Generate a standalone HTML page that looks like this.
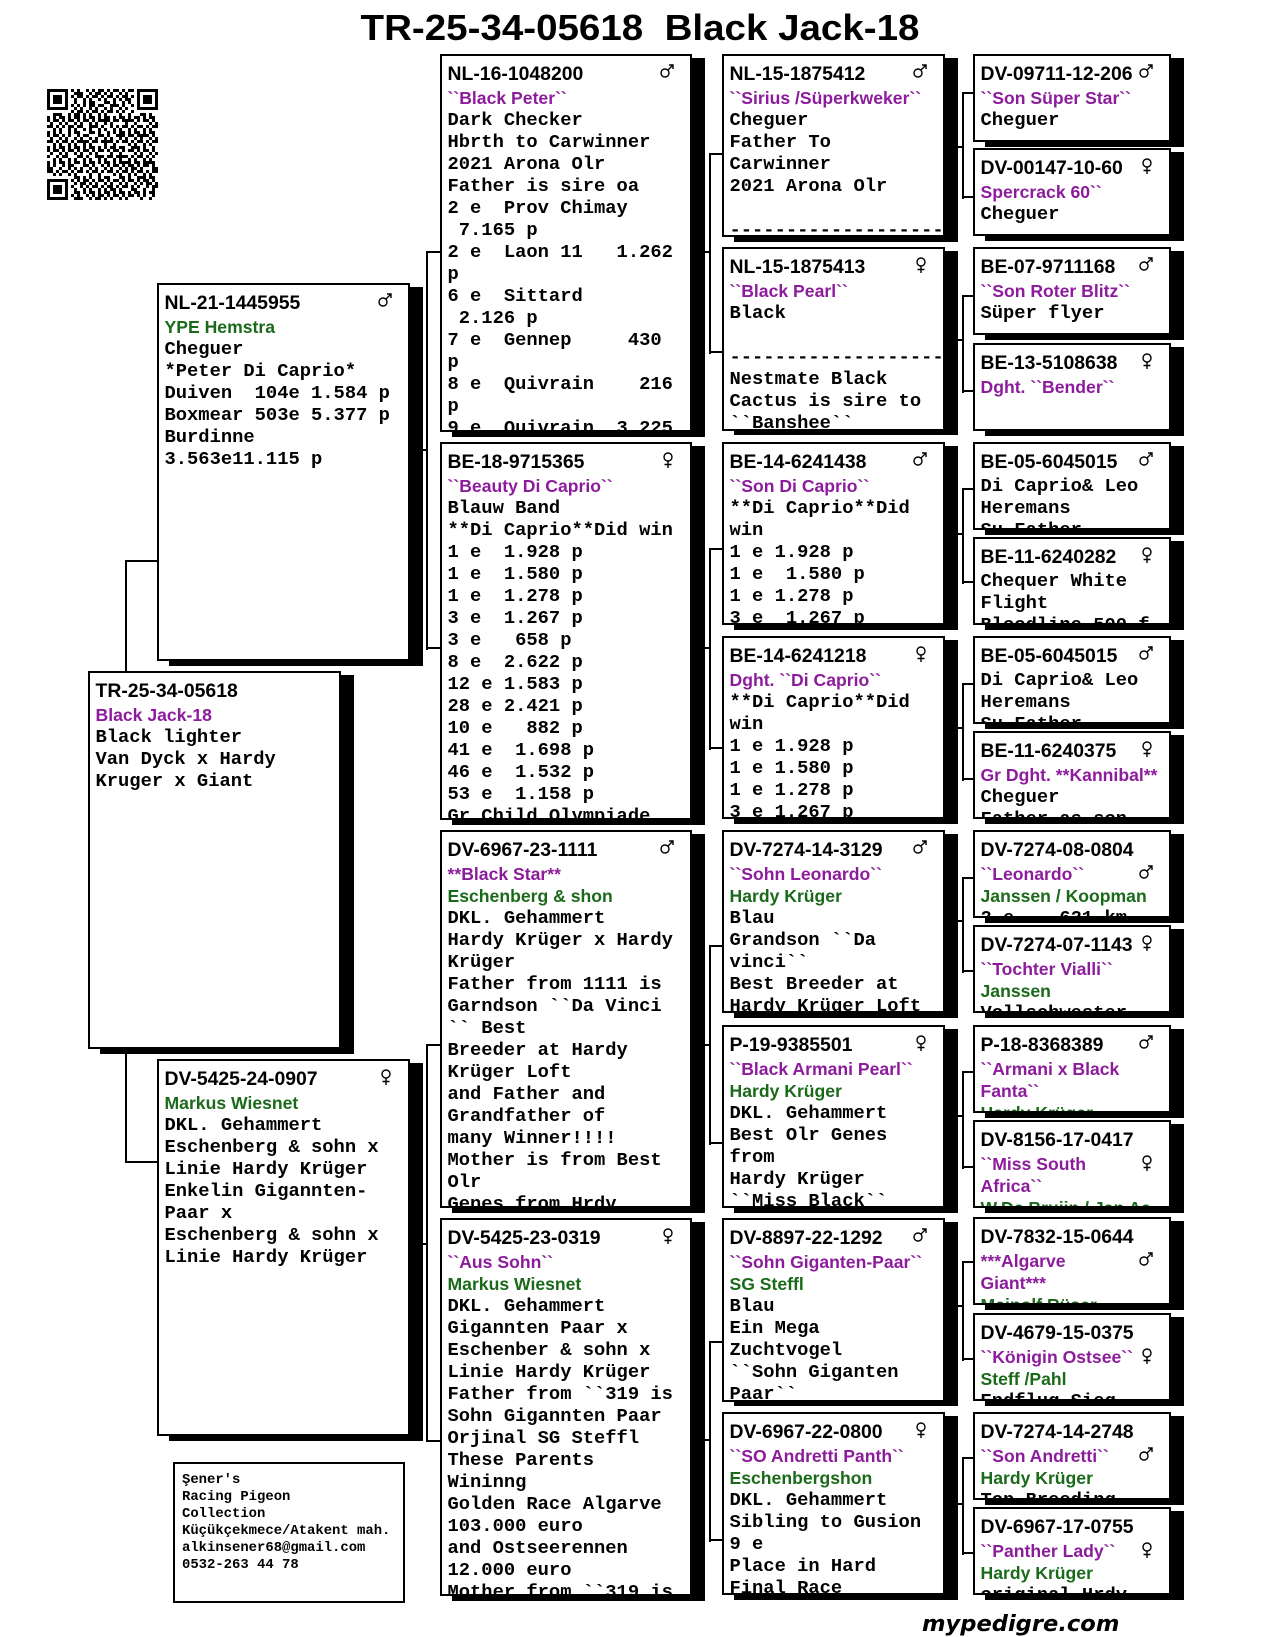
<!DOCTYPE html>
<html><head><meta charset="utf-8">
<style>
html,body{margin:0;padding:0;background:#fff}
#pg{position:relative;width:1280px;height:1637px;overflow:hidden;background:#fff}
.s{position:absolute;background:#000}
.l{position:absolute;background:#000}
.b{position:absolute;box-sizing:border-box;border:2px solid #000;background:#fff;overflow:hidden;padding:6px 0 0 5.5px}
.b div{white-space:pre;height:22px;line-height:22px}
.b .h{font:bold 19.4px/25px "Liberation Sans",Arial,sans-serif;height:25px;line-height:25px;color:#000}
.b .p{font:bold 17.6px/22px "Liberation Sans",Arial,sans-serif;color:#8c1c9c}
.b .g{font:bold 17.6px/22px "Liberation Sans",Arial,sans-serif;color:#1a6a1a}
.b .m{font:bold 18.8px/22px "Liberation Mono","Courier New",monospace;color:#000}
.sym{position:absolute;right:16px;top:8px}
.sym.l2{top:33px}
#title{position:absolute;left:0;top:8px;width:1280px;text-align:center;font:bold 36px/40px "Liberation Sans",Arial,sans-serif;color:#000;white-space:pre;transform:scaleX(1.07)}
#info{position:absolute;left:173px;top:1462px;width:232px;height:141px;box-sizing:border-box;border:2px solid #000;padding:8px 0 0 7px;font:bold 13.9px/17px "Liberation Mono","Courier New",monospace;white-space:pre;color:#000}
#site{position:absolute;left:922px;top:1611px;font:italic bold 22.6px/26px "DejaVu Sans",sans-serif;color:#000;white-space:pre}
</style></head>
<body><div id="pg">

<div id="title">TR-25-34-05618  Black Jack-18</div>

<!-- QR -->
<svg style="position:absolute;left:47px;top:89px" width="111" height="111" viewBox="0 0 111 111">
<defs><pattern id="q" width="15" height="15" patternUnits="userSpaceOnUse"><path d="M0 0h3v3h-3z M6 0h6v3h-6z M3 3h3v3h-3z M12 3h3v3h-3z M0 6h6v3h-6z M9 6h3v3h-3z M6 9h3v3h-3z M12 9h3v6h-3z M0 12h3v3h-3z M6 12h3v3h-3z"/></pattern>
<pattern id="q2" width="21" height="21" patternUnits="userSpaceOnUse"><path fill="#fff" d="M3 3h3v3h-3z M15 0h3v3h-3z M9 12h3v3h-3z M18 15h3v3h-3z"/><path d="M9 3h3v3h-3z M0 15h3v3h-3z M15 9h3v3h-3z"/></pattern></defs>
<rect width="111" height="111" fill="url(#q)"/>
<rect width="111" height="111" fill="url(#q2)"/>
<rect x="0" y="0" width="24" height="24" fill="#fff"/><rect x="87" y="0" width="24" height="24" fill="#fff"/><rect x="0" y="87" width="24" height="24" fill="#fff"/>
<rect x="0" y="0" width="21" height="21"/><rect x="3" y="3" width="15" height="15" fill="#fff"/><rect x="6" y="6" width="9" height="9"/>
<rect x="90" y="0" width="21" height="21"/><rect x="93" y="3" width="15" height="15" fill="#fff"/><rect x="96" y="6" width="9" height="9"/>
<rect x="0" y="90" width="21" height="21"/><rect x="3" y="93" width="15" height="15" fill="#fff"/><rect x="6" y="96" width="9" height="9"/>
</svg>

<!-- connectors -->
<div class="l" style="left:125px;top:560px;width:2px;height:111px"></div>
<div class="l" style="left:125px;top:560px;width:32px;height:2px"></div>
<div class="l" style="left:125px;top:1049px;width:2px;height:114px"></div>
<div class="l" style="left:125px;top:1161px;width:32px;height:2px"></div>

<div class="l" style="left:423px;top:449px;width:4px;height:2px"></div>
<div class="l" style="left:426px;top:251px;width:2px;height:399px"></div>
<div class="l" style="left:426px;top:251px;width:14px;height:2px"></div>
<div class="l" style="left:426px;top:647px;width:14px;height:2px"></div>
<div class="l" style="left:423px;top:1243px;width:4px;height:2px"></div>
<div class="l" style="left:426px;top:1044px;width:2px;height:398px"></div>
<div class="l" style="left:426px;top:1044px;width:14px;height:2px"></div>
<div class="l" style="left:426px;top:1440px;width:14px;height:2px"></div>

<div class="l" style="left:705px;top:251px;width:5px;height:2px"></div>
<div class="l" style="left:709px;top:153px;width:2px;height:201px"></div>
<div class="l" style="left:709px;top:153px;width:13px;height:2px"></div>
<div class="l" style="left:709px;top:351px;width:13px;height:2px"></div>
<div class="l" style="left:705px;top:647px;width:5px;height:2px"></div>
<div class="l" style="left:709px;top:548px;width:2px;height:202px"></div>
<div class="l" style="left:709px;top:548px;width:13px;height:2px"></div>
<div class="l" style="left:709px;top:747px;width:13px;height:2px"></div>
<div class="l" style="left:705px;top:1044px;width:5px;height:2px"></div>
<div class="l" style="left:709px;top:945px;width:2px;height:200px"></div>
<div class="l" style="left:709px;top:945px;width:13px;height:2px"></div>
<div class="l" style="left:709px;top:1142px;width:13px;height:2px"></div>
<div class="l" style="left:705px;top:1439px;width:5px;height:2px"></div>
<div class="l" style="left:709px;top:1341px;width:2px;height:201px"></div>
<div class="l" style="left:709px;top:1341px;width:13px;height:2px"></div>
<div class="l" style="left:709px;top:1539px;width:13px;height:2px"></div>

<div class="l" style="left:958px;top:146px;width:5px;height:2px"></div>
<div class="l" style="left:962px;top:92px;width:2px;height:107px"></div>
<div class="l" style="left:962px;top:92px;width:11px;height:2px"></div>
<div class="l" style="left:962px;top:196px;width:11px;height:2px"></div>
<div class="l" style="left:958px;top:339px;width:5px;height:2px"></div>
<div class="l" style="left:962px;top:295px;width:2px;height:98px"></div>
<div class="l" style="left:962px;top:295px;width:11px;height:2px"></div>
<div class="l" style="left:962px;top:390px;width:11px;height:2px"></div>
<div class="l" style="left:958px;top:533px;width:5px;height:2px"></div>
<div class="l" style="left:962px;top:488px;width:2px;height:96px"></div>
<div class="l" style="left:962px;top:488px;width:11px;height:2px"></div>
<div class="l" style="left:962px;top:581px;width:11px;height:2px"></div>
<div class="l" style="left:958px;top:727px;width:5px;height:2px"></div>
<div class="l" style="left:962px;top:683px;width:2px;height:98px"></div>
<div class="l" style="left:962px;top:683px;width:11px;height:2px"></div>
<div class="l" style="left:962px;top:778px;width:11px;height:2px"></div>
<div class="l" style="left:958px;top:920px;width:5px;height:2px"></div>
<div class="l" style="left:962px;top:877px;width:2px;height:96px"></div>
<div class="l" style="left:962px;top:877px;width:11px;height:2px"></div>
<div class="l" style="left:962px;top:970px;width:11px;height:2px"></div>
<div class="l" style="left:958px;top:1115px;width:5px;height:2px"></div>
<div class="l" style="left:962px;top:1071px;width:2px;height:98px"></div>
<div class="l" style="left:962px;top:1071px;width:11px;height:2px"></div>
<div class="l" style="left:962px;top:1166px;width:11px;height:2px"></div>
<div class="l" style="left:958px;top:1305px;width:5px;height:2px"></div>
<div class="l" style="left:962px;top:1261px;width:2px;height:100px"></div>
<div class="l" style="left:962px;top:1261px;width:11px;height:2px"></div>
<div class="l" style="left:962px;top:1358px;width:11px;height:2px"></div>
<div class="l" style="left:958px;top:1503px;width:5px;height:2px"></div>
<div class="l" style="left:962px;top:1457px;width:2px;height:98px"></div>
<div class="l" style="left:962px;top:1457px;width:11px;height:2px"></div>
<div class="l" style="left:962px;top:1552px;width:11px;height:2px"></div>

<!-- shadows -->
<div class="s" style="left:169px;top:287px;width:254px;height:379px"></div>
<div class="s" style="left:100px;top:675px;width:254px;height:379px"></div>
<div class="s" style="left:169px;top:1063px;width:254px;height:378px"></div>

<div class="s" style="left:452px;top:58px;width:253px;height:379px"></div>
<div class="s" style="left:452px;top:446px;width:253px;height:379px"></div>
<div class="s" style="left:452px;top:834px;width:253px;height:379px"></div>
<div class="s" style="left:452px;top:1222px;width:253px;height:379px"></div>

<div class="s" style="left:734px;top:58px;width:224px;height:184px"></div>
<div class="s" style="left:734px;top:251px;width:224px;height:184px"></div>
<div class="s" style="left:734px;top:446px;width:224px;height:184px"></div>
<div class="s" style="left:734px;top:640px;width:224px;height:184px"></div>
<div class="s" style="left:734px;top:834px;width:224px;height:184px"></div>
<div class="s" style="left:734px;top:1029px;width:224px;height:184px"></div>
<div class="s" style="left:734px;top:1222px;width:224px;height:184px"></div>
<div class="s" style="left:734px;top:1416px;width:224px;height:184px"></div>

<div class="s" style="left:985px;top:58px;width:199px;height:89px"></div>
<div class="s" style="left:985px;top:152px;width:199px;height:89px"></div>
<div class="s" style="left:985px;top:251px;width:199px;height:89px"></div>
<div class="s" style="left:985px;top:347px;width:199px;height:89px"></div>
<div class="s" style="left:985px;top:446px;width:199px;height:89px"></div>
<div class="s" style="left:985px;top:541px;width:199px;height:89px"></div>
<div class="s" style="left:985px;top:640px;width:199px;height:89px"></div>
<div class="s" style="left:985px;top:735px;width:199px;height:89px"></div>
<div class="s" style="left:985px;top:834px;width:199px;height:89px"></div>
<div class="s" style="left:985px;top:929px;width:199px;height:89px"></div>
<div class="s" style="left:985px;top:1029px;width:199px;height:89px"></div>
<div class="s" style="left:985px;top:1124px;width:199px;height:89px"></div>
<div class="s" style="left:985px;top:1221px;width:199px;height:89px"></div>
<div class="s" style="left:985px;top:1317px;width:199px;height:89px"></div>
<div class="s" style="left:985px;top:1416px;width:199px;height:89px"></div>
<div class="s" style="left:985px;top:1511px;width:199px;height:89px"></div>

<!-- column 1 -->
<div class="b" style="left:157px;top:283px;width:253px;height:378px">
<svg class="sym" width="14" height="14" viewBox="0 0 14 14"><g fill="none" stroke="#000" stroke-width="1.4"><circle cx="5" cy="9" r="4"/><path d="M8 6L13 1M9 1h4v4"/></g></svg>
<div class="h">NL-21-1445955</div>
<div class="g">YPE Hemstra</div>
<div class="m">Cheguer</div>
<div class="m">*Peter Di Caprio*</div>
<div class="m">Duiven  104e 1.584 p</div>
<div class="m">Boxmear 503e 5.377 p</div>
<div class="m">Burdinne</div>
<div class="m">3.563e11.115 p</div>
</div>

<div class="b" style="left:88px;top:671px;width:253px;height:378px">
<div class="h">TR-25-34-05618</div>
<div class="p">Black Jack-18</div>
<div class="m">Black lighter</div>
<div class="m">Van Dyck x Hardy</div>
<div class="m">Kruger x Giant</div>
</div>

<div class="b" style="left:157px;top:1059px;width:253px;height:377px">
<svg class="sym" width="12" height="16" viewBox="0 0 12 16"><g fill="none" stroke="#000" stroke-width="1.4"><circle cx="6" cy="5" r="4"/><path d="M6 9v7M2.5 12.5h7"/></g></svg>
<div class="h">DV-5425-24-0907</div>
<div class="g">Markus Wiesnet</div>
<div class="m">DKL. Gehammert</div>
<div class="m">Eschenberg &amp; sohn x</div>
<div class="m">Linie Hardy Krüger</div>
<div class="m">Enkelin Gigannten-</div>
<div class="m">Paar x</div>
<div class="m">Eschenberg &amp; sohn x</div>
<div class="m">Linie Hardy Krüger</div>
</div>

<!-- column 2 -->
<div class="b" style="left:440px;top:54px;width:252px;height:378px">
<svg class="sym" width="14" height="14" viewBox="0 0 14 14"><g fill="none" stroke="#000" stroke-width="1.4"><circle cx="5" cy="9" r="4"/><path d="M8 6L13 1M9 1h4v4"/></g></svg>
<div class="h">NL-16-1048200</div>
<div class="p">``Black Peter``</div>
<div class="m">Dark Checker</div>
<div class="m">Hbrth to Carwinner</div>
<div class="m">2021 Arona Olr</div>
<div class="m">Father is sire oa</div>
<div class="m">2 e  Prov Chimay</div>
<div class="m"> 7.165 p</div>
<div class="m">2 e  Laon 11   1.262</div>
<div class="m">p</div>
<div class="m">6 e  Sittard</div>
<div class="m"> 2.126 p</div>
<div class="m">7 e  Gennep     430</div>
<div class="m">p</div>
<div class="m">8 e  Quivrain    216</div>
<div class="m">p</div>
<div class="m">9 e  Quivrain  3.225</div>
</div>

<div class="b" style="left:440px;top:442px;width:252px;height:378px">
<svg class="sym" width="12" height="16" viewBox="0 0 12 16"><g fill="none" stroke="#000" stroke-width="1.4"><circle cx="6" cy="5" r="4"/><path d="M6 9v7M2.5 12.5h7"/></g></svg>
<div class="h">BE-18-9715365</div>
<div class="p">``Beauty Di Caprio``</div>
<div class="m">Blauw Band</div>
<div class="m">**Di Caprio**Did win</div>
<div class="m">1 e  1.928 p</div>
<div class="m">1 e  1.580 p</div>
<div class="m">1 e  1.278 p</div>
<div class="m">3 e  1.267 p</div>
<div class="m">3 e   658 p</div>
<div class="m">8 e  2.622 p</div>
<div class="m">12 e 1.583 p</div>
<div class="m">28 e 2.421 p</div>
<div class="m">10 e   882 p</div>
<div class="m">41 e  1.698 p</div>
<div class="m">46 e  1.532 p</div>
<div class="m">53 e  1.158 p</div>
<div class="m">Gr Child Olympiade</div>
</div>

<div class="b" style="left:440px;top:830px;width:252px;height:378px">
<svg class="sym" width="14" height="14" viewBox="0 0 14 14"><g fill="none" stroke="#000" stroke-width="1.4"><circle cx="5" cy="9" r="4"/><path d="M8 6L13 1M9 1h4v4"/></g></svg>
<div class="h">DV-6967-23-1111</div>
<div class="p">**Black Star**</div>
<div class="g">Eschenberg &amp; shon</div>
<div class="m">DKL. Gehammert</div>
<div class="m">Hardy Krüger x Hardy</div>
<div class="m">Krüger</div>
<div class="m">Father from 1111 is</div>
<div class="m">Garndson ``Da Vinci</div>
<div class="m">`` Best</div>
<div class="m">Breeder at Hardy</div>
<div class="m">Krüger Loft</div>
<div class="m">and Father and</div>
<div class="m">Grandfather of</div>
<div class="m">many Winner!!!!</div>
<div class="m">Mother is from Best</div>
<div class="m">Olr</div>
<div class="m">Genes from Hrdy</div>
</div>

<div class="b" style="left:440px;top:1218px;width:252px;height:378px">
<svg class="sym" width="12" height="16" viewBox="0 0 12 16"><g fill="none" stroke="#000" stroke-width="1.4"><circle cx="6" cy="5" r="4"/><path d="M6 9v7M2.5 12.5h7"/></g></svg>
<div class="h">DV-5425-23-0319</div>
<div class="p">``Aus Sohn``</div>
<div class="g">Markus Wiesnet</div>
<div class="m">DKL. Gehammert</div>
<div class="m">Gigannten Paar x</div>
<div class="m">Eschenber &amp; sohn x</div>
<div class="m">Linie Hardy Krüger</div>
<div class="m">Father from ``319 is</div>
<div class="m">Sohn Gigannten Paar</div>
<div class="m">Orjinal SG Steffl</div>
<div class="m">These Parents</div>
<div class="m">Wininng</div>
<div class="m">Golden Race Algarve</div>
<div class="m">103.000 euro</div>
<div class="m">and Ostseerennen</div>
<div class="m">12.000 euro</div>
<div class="m">Mother from ``319 is</div>
</div>

<!-- column 3 -->
<div class="b" style="left:722px;top:54px;width:223px;height:183px">
<svg class="sym" width="14" height="14" viewBox="0 0 14 14"><g fill="none" stroke="#000" stroke-width="1.4"><circle cx="5" cy="9" r="4"/><path d="M8 6L13 1M9 1h4v4"/></g></svg>
<div class="h">NL-15-1875412</div>
<div class="p">``Sirius /Süperkweker``</div>
<div class="m">Cheguer</div>
<div class="m">Father To</div>
<div class="m">Carwinner</div>
<div class="m">2021 Arona Olr</div>
<div class="m"> </div>
<div class="m">--------------------</div>
</div>

<div class="b" style="left:722px;top:247px;width:223px;height:184px">
<svg class="sym" width="12" height="16" viewBox="0 0 12 16"><g fill="none" stroke="#000" stroke-width="1.4"><circle cx="6" cy="5" r="4"/><path d="M6 9v7M2.5 12.5h7"/></g></svg>
<div class="h">NL-15-1875413</div>
<div class="p">``Black Pearl``</div>
<div class="m">Black</div>
<div class="m"> </div>
<div class="m">--------------------</div>
<div class="m">Nestmate Black</div>
<div class="m">Cactus is sire to</div>
<div class="m">``Banshee``</div>
</div>

<div class="b" style="left:722px;top:442px;width:223px;height:183px">
<svg class="sym" width="14" height="14" viewBox="0 0 14 14"><g fill="none" stroke="#000" stroke-width="1.4"><circle cx="5" cy="9" r="4"/><path d="M8 6L13 1M9 1h4v4"/></g></svg>
<div class="h">BE-14-6241438</div>
<div class="p">``Son Di Caprio``</div>
<div class="m">**Di Caprio**Did</div>
<div class="m">win</div>
<div class="m">1 e 1.928 p</div>
<div class="m">1 e  1.580 p</div>
<div class="m">1 e 1.278 p</div>
<div class="m">3 e  1.267 p</div>
</div>

<div class="b" style="left:722px;top:636px;width:223px;height:183px">
<svg class="sym" width="12" height="16" viewBox="0 0 12 16"><g fill="none" stroke="#000" stroke-width="1.4"><circle cx="6" cy="5" r="4"/><path d="M6 9v7M2.5 12.5h7"/></g></svg>
<div class="h">BE-14-6241218</div>
<div class="p">Dght. ``Di Caprio``</div>
<div class="m">**Di Caprio**Did</div>
<div class="m">win</div>
<div class="m">1 e 1.928 p</div>
<div class="m">1 e 1.580 p</div>
<div class="m">1 e 1.278 p</div>
<div class="m">3 e 1.267 p</div>
</div>

<div class="b" style="left:722px;top:830px;width:223px;height:183px">
<svg class="sym" width="14" height="14" viewBox="0 0 14 14"><g fill="none" stroke="#000" stroke-width="1.4"><circle cx="5" cy="9" r="4"/><path d="M8 6L13 1M9 1h4v4"/></g></svg>
<div class="h">DV-7274-14-3129</div>
<div class="p">``Sohn Leonardo``</div>
<div class="g">Hardy Krüger</div>
<div class="m">Blau</div>
<div class="m">Grandson ``Da</div>
<div class="m">vinci``</div>
<div class="m">Best Breeder at</div>
<div class="m">Hardy Krüger Loft</div>
</div>

<div class="b" style="left:722px;top:1025px;width:223px;height:183px">
<svg class="sym" width="12" height="16" viewBox="0 0 12 16"><g fill="none" stroke="#000" stroke-width="1.4"><circle cx="6" cy="5" r="4"/><path d="M6 9v7M2.5 12.5h7"/></g></svg>
<div class="h">P-19-9385501</div>
<div class="p">``Black Armani Pearl``</div>
<div class="g">Hardy Krüger</div>
<div class="m">DKL. Gehammert</div>
<div class="m">Best Olr Genes</div>
<div class="m">from</div>
<div class="m">Hardy Krüger</div>
<div class="m">``Miss Black``</div>
</div>

<div class="b" style="left:722px;top:1218px;width:223px;height:184px">
<svg class="sym" width="14" height="14" viewBox="0 0 14 14"><g fill="none" stroke="#000" stroke-width="1.4"><circle cx="5" cy="9" r="4"/><path d="M8 6L13 1M9 1h4v4"/></g></svg>
<div class="h">DV-8897-22-1292</div>
<div class="p">``Sohn Giganten-Paar``</div>
<div class="g">SG Steffl</div>
<div class="m">Blau</div>
<div class="m">Ein Mega</div>
<div class="m">Zuchtvogel</div>
<div class="m">``Sohn Giganten</div>
<div class="m">Paar``</div>
</div>

<div class="b" style="left:722px;top:1412px;width:223px;height:183px">
<svg class="sym" width="12" height="16" viewBox="0 0 12 16"><g fill="none" stroke="#000" stroke-width="1.4"><circle cx="6" cy="5" r="4"/><path d="M6 9v7M2.5 12.5h7"/></g></svg>
<div class="h">DV-6967-22-0800</div>
<div class="p">``SO Andretti Panth``</div>
<div class="g">Eschenbergshon</div>
<div class="m">DKL. Gehammert</div>
<div class="m">Sibling to Gusion</div>
<div class="m">9 e</div>
<div class="m">Place in Hard</div>
<div class="m">Final Race</div>
</div>

<!-- column 4 -->
<div class="b" style="left:973px;top:54px;width:198px;height:88px">
<svg class="sym" width="14" height="14" viewBox="0 0 14 14"><g fill="none" stroke="#000" stroke-width="1.4"><circle cx="5" cy="9" r="4"/><path d="M8 6L13 1M9 1h4v4"/></g></svg>
<div class="h">DV-09711-12-206</div>
<div class="p">``Son Süper Star``</div>
<div class="m">Cheguer</div>
</div>

<div class="b" style="left:973px;top:148px;width:198px;height:88px">
<svg class="sym" width="12" height="16" viewBox="0 0 12 16"><g fill="none" stroke="#000" stroke-width="1.4"><circle cx="6" cy="5" r="4"/><path d="M6 9v7M2.5 12.5h7"/></g></svg>
<div class="h">DV-00147-10-60</div>
<div class="p">Spercrack 60``</div>
<div class="m">Cheguer</div>
</div>

<div class="b" style="left:973px;top:247px;width:198px;height:88px">
<svg class="sym" width="14" height="14" viewBox="0 0 14 14"><g fill="none" stroke="#000" stroke-width="1.4"><circle cx="5" cy="9" r="4"/><path d="M8 6L13 1M9 1h4v4"/></g></svg>
<div class="h">BE-07-9711168</div>
<div class="p">``Son Roter Blitz``</div>
<div class="m">Süper flyer</div>
</div>

<div class="b" style="left:973px;top:343px;width:198px;height:88px">
<svg class="sym" width="12" height="16" viewBox="0 0 12 16"><g fill="none" stroke="#000" stroke-width="1.4"><circle cx="6" cy="5" r="4"/><path d="M6 9v7M2.5 12.5h7"/></g></svg>
<div class="h">BE-13-5108638</div>
<div class="p">Dght. ``Bender``</div>
</div>

<div class="b" style="left:973px;top:442px;width:198px;height:88px">
<svg class="sym" width="14" height="14" viewBox="0 0 14 14"><g fill="none" stroke="#000" stroke-width="1.4"><circle cx="5" cy="9" r="4"/><path d="M8 6L13 1M9 1h4v4"/></g></svg>
<div class="h">BE-05-6045015</div>
<div class="m">Di Caprio&amp; Leo</div>
<div class="m">Heremans</div>
<div class="m">Su Father</div>
</div>

<div class="b" style="left:973px;top:537px;width:198px;height:88px">
<svg class="sym" width="12" height="16" viewBox="0 0 12 16"><g fill="none" stroke="#000" stroke-width="1.4"><circle cx="6" cy="5" r="4"/><path d="M6 9v7M2.5 12.5h7"/></g></svg>
<div class="h">BE-11-6240282</div>
<div class="m">Chequer White</div>
<div class="m">Flight</div>
<div class="m">Bloodline 500 f</div>
</div>

<div class="b" style="left:973px;top:636px;width:198px;height:88px">
<svg class="sym" width="14" height="14" viewBox="0 0 14 14"><g fill="none" stroke="#000" stroke-width="1.4"><circle cx="5" cy="9" r="4"/><path d="M8 6L13 1M9 1h4v4"/></g></svg>
<div class="h">BE-05-6045015</div>
<div class="m">Di Caprio&amp; Leo</div>
<div class="m">Heremans</div>
<div class="m">Su Father</div>
</div>

<div class="b" style="left:973px;top:731px;width:198px;height:88px">
<svg class="sym" width="12" height="16" viewBox="0 0 12 16"><g fill="none" stroke="#000" stroke-width="1.4"><circle cx="6" cy="5" r="4"/><path d="M6 9v7M2.5 12.5h7"/></g></svg>
<div class="h">BE-11-6240375</div>
<div class="p">Gr Dght. **Kannibal**</div>
<div class="m">Cheguer</div>
<div class="m">Father as son</div>
</div>

<div class="b" style="left:973px;top:830px;width:198px;height:88px">
<svg class="sym l2" width="14" height="14" viewBox="0 0 14 14"><g fill="none" stroke="#000" stroke-width="1.4"><circle cx="5" cy="9" r="4"/><path d="M8 6L13 1M9 1h4v4"/></g></svg>
<div class="h">DV-7274-08-0804</div>
<div class="p">``Leonardo``</div>
<div class="g">Janssen / Koopman</div>
<div class="m">2 e    621 km</div>
</div>

<div class="b" style="left:973px;top:925px;width:198px;height:88px">
<svg class="sym" width="12" height="16" viewBox="0 0 12 16"><g fill="none" stroke="#000" stroke-width="1.4"><circle cx="6" cy="5" r="4"/><path d="M6 9v7M2.5 12.5h7"/></g></svg>
<div class="h">DV-7274-07-1143</div>
<div class="p">``Tochter Vialli``</div>
<div class="g">Janssen</div>
<div class="m">Vollschwester</div>
</div>

<div class="b" style="left:973px;top:1025px;width:198px;height:88px">
<svg class="sym" width="14" height="14" viewBox="0 0 14 14"><g fill="none" stroke="#000" stroke-width="1.4"><circle cx="5" cy="9" r="4"/><path d="M8 6L13 1M9 1h4v4"/></g></svg>
<div class="h">P-18-8368389</div>
<div class="p">``Armani x Black</div>
<div class="p">Fanta``</div>
<div class="g">Hardy Krüger</div>
</div>

<div class="b" style="left:973px;top:1120px;width:198px;height:88px">
<svg class="sym l2" width="12" height="16" viewBox="0 0 12 16"><g fill="none" stroke="#000" stroke-width="1.4"><circle cx="6" cy="5" r="4"/><path d="M6 9v7M2.5 12.5h7"/></g></svg>
<div class="h">DV-8156-17-0417</div>
<div class="p">``Miss South</div>
<div class="p">Africa``</div>
<div class="g">W.De Bruijn / Jan Aa</div>
</div>

<div class="b" style="left:973px;top:1217px;width:198px;height:88px">
<svg class="sym l2" width="14" height="14" viewBox="0 0 14 14"><g fill="none" stroke="#000" stroke-width="1.4"><circle cx="5" cy="9" r="4"/><path d="M8 6L13 1M9 1h4v4"/></g></svg>
<div class="h">DV-7832-15-0644</div>
<div class="p">***Algarve</div>
<div class="p">Giant***</div>
<div class="g">Meinolf Rüser</div>
</div>

<div class="b" style="left:973px;top:1313px;width:198px;height:88px">
<svg class="sym l2" width="12" height="16" viewBox="0 0 12 16"><g fill="none" stroke="#000" stroke-width="1.4"><circle cx="6" cy="5" r="4"/><path d="M6 9v7M2.5 12.5h7"/></g></svg>
<div class="h">DV-4679-15-0375</div>
<div class="p">``Königin Ostsee``</div>
<div class="g">Steff /Pahl</div>
<div class="m">Endflug Sieg</div>
</div>

<div class="b" style="left:973px;top:1412px;width:198px;height:88px">
<svg class="sym l2" width="14" height="14" viewBox="0 0 14 14"><g fill="none" stroke="#000" stroke-width="1.4"><circle cx="5" cy="9" r="4"/><path d="M8 6L13 1M9 1h4v4"/></g></svg>
<div class="h">DV-7274-14-2748</div>
<div class="p">``Son Andretti``</div>
<div class="g">Hardy Krüger</div>
<div class="m">Top Breeding</div>
</div>

<div class="b" style="left:973px;top:1507px;width:198px;height:88px">
<svg class="sym l2" width="12" height="16" viewBox="0 0 12 16"><g fill="none" stroke="#000" stroke-width="1.4"><circle cx="6" cy="5" r="4"/><path d="M6 9v7M2.5 12.5h7"/></g></svg>
<div class="h">DV-6967-17-0755</div>
<div class="p">``Panther Lady``</div>
<div class="g">Hardy Krüger</div>
<div class="m">original Hrdy</div>
</div>

<!-- footer info -->
<div id="info">Şener's
Racing Pigeon
Collection
Küçükçekmece/Atakent mah.
alkinsener68@gmail.com
0532-263 44 78</div>

<div id="site">mypedigre.com</div>

</div></body></html>
